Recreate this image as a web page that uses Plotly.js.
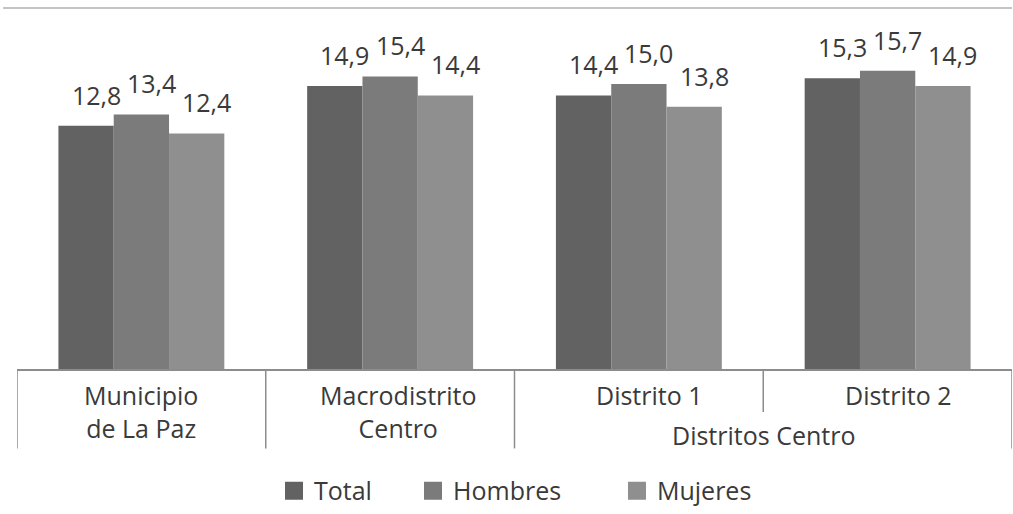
<!DOCTYPE html>
<html>
<head>
<meta charset="utf-8">
<script src="https://cdn.plot.ly/plotly-3.0.1.min.js"></script>
<style>html,body{margin:0;padding:0;background:#fff;}#chart{width:1013px;height:514px;}</style>
</head>
<body>
<div id="chart"></div>
<script>
// ---- data ----
var categories = ["Municipio<br>de La Paz", "Macrodistrito<br>Centro", "Distrito 1", "Distrito 2"];
var groupLabel = "Distritos Centro";
var groupMembers = [2, 3];
var seriesNames = ["Total", "Hombres", "Mujeres"];
var totalVals = [12.8, 14.9, 14.4, 15.3];
var hombresVals = [13.4, 15.4, 15.0, 15.7];
var mujeresVals = [12.4, 14.4, 13.8, 14.9];

// ---- style ----
var seriesColors = ["#626262", "#7b7b7b", "#8f8f8f"];
var fontFam = "'Open Sans', 'Noto Sans', sans-serif";
var txtColor = "#3a3a3a";
var lineColor = "#8c8c8c";
var bargap = 0.333;
var labelXShift = [0, 8, 11, 11];
var legendX = [0.2583, 0.3980, 0.6030];
var legendIds = ["legend", "legend2", "legend3"];

var seriesVals = [totalVals, hombresVals, mujeresVals];
var xIdx = categories.map(function(_, i){ return i; });

var traces = seriesVals.map(function(vals, s){
  return {
    type: "bar",
    name: seriesNames[s],
    x: xIdx,
    y: vals,
    legendgroup: seriesNames[s],
    showlegend: false,
    marker: {color: seriesColors[s], line: {width: 0}},
    hoverinfo: "y+name"
  };
});
// legend entries (square swatches, no plotted points)
seriesNames.forEach(function(n, s){
  traces.push({
    type: "scatter", mode: "markers", name: n,
    x: [null], y: [null],
    legendgroup: n, legend: legendIds[s], showlegend: true,
    marker: {symbol: "square", size: 16, color: seriesColors[s],
      line: {color: seriesColors[s], width: 2}},
    hoverinfo: "skip"
  });
});

var annotations = [];
var barW = (1 - bargap) / seriesVals.length;
seriesVals.forEach(function(vals, s){
  vals.forEach(function(v, i){
    annotations.push({
      x: i + (s - (seriesVals.length - 1) / 2) * barW,
      y: v, xref: "x", yref: "y",
      text: v.toFixed(1).replace(".", ","),
      showarrow: false, xanchor: "center", yanchor: "bottom",
      xshift: 10, yshift: 12,
      font: {family: fontFam, size: 25, color: txtColor}
    });
  });
});
categories.forEach(function(c, i){
  annotations.push({
    x: i, y: -0.02, xref: "x", yref: "paper",
    text: c, showarrow: false, xanchor: "center", yanchor: "top",
    xshift: labelXShift[i],
    font: {family: fontFam, size: 25, color: txtColor}
  });
});
annotations.push({
  x: (groupMembers[0] + groupMembers[1]) / 2, y: -0.13, xref: "x", yref: "paper",
  text: groupLabel, showarrow: false, xanchor: "center", yanchor: "top",
  font: {family: fontFam, size: 25, color: txtColor}
});

var shapes = [];
// top reference line
shapes.push({type: "line", xref: "paper", yref: "paper", x0: -0.014, x1: 1, y0: 1, y1: 1,
  line: {color: "#c4c4c4", width: 2}});
// category dividers
for (var k = 0; k <= categories.length; k++) {
  var xb = k - 0.5;
  var inner = (xb > groupMembers[0] - 0.5 && xb < groupMembers[groupMembers.length - 1] + 0.5);
  shapes.push({type: "line", xref: "x", yref: "paper", x0: xb, x1: xb, y0: 0,
    y1: inner ? -0.119 : -0.22, line: {color: lineColor, width: 1.5}});
}

var layout = {
  width: 1013, height: 514,
  margin: {l: 17, r: 1, t: 8, b: 144},
  paper_bgcolor: "#fff", plot_bgcolor: "#fff",
  barmode: "group", bargap: bargap, bargroupgap: 0,
  xaxis: {type: "linear", range: [-0.5, 3.5], showticklabels: false, showgrid: false,
    zeroline: false, showline: true, linecolor: lineColor, linewidth: 1.5, ticks: ""},
  yaxis: {range: [0, 19], showgrid: false, zeroline: false, showline: false, showticklabels: false},
  showlegend: true,
  annotations: annotations,
  shapes: shapes,
  font: {family: fontFam, color: txtColor}
};
legendIds.forEach(function(id, s){
  layout[id] = {orientation: "h", x: legendX[s], xanchor: "left", y: -0.334, yanchor: "middle",
    bgcolor: "rgba(0,0,0,0)",
    font: {family: fontFam, size: 25, color: txtColor}, itemclick: false};
});

Plotly.newPlot("chart", traces, layout, {displayModeBar: false, staticPlot: true});
</script>
</body>
</html>
